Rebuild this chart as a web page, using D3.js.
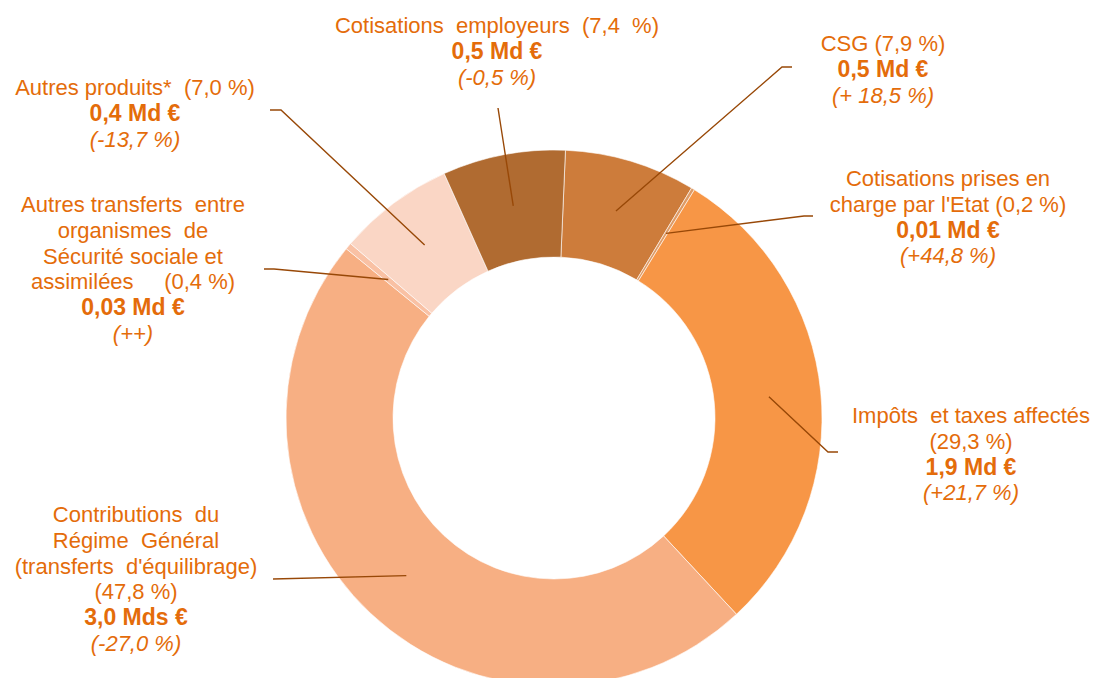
<!DOCTYPE html>
<html>
<head>
<meta charset="utf-8">
<script src="https://cdn.jsdelivr.net/npm/d3@7"></script>
<style>
  body { margin: 0; background: #fff; }
  svg text { font-family: "Liberation Sans", Arial, sans-serif; font-size: 22px; fill: #E46C0A; white-space: pre; }
</style>
</head>
<body>
<div id="chart"></div>
<script>
// slices, clockwise from the top
var categories = ["CSG", "Cotisations prises en charge par l'Etat", "Impôts et taxes affectés",
  "Contributions du Régime Général (transferts d'équilibrage)",
  "Autres transferts entre organismes de Sécurité sociale et assimilées",
  "Autres produits*", "Cotisations employeurs"];
var shares = [7.9, 0.2, 29.3, 47.8, 0.4, 7.0, 7.4];
var amounts = ["0,5 Md €", "0,01 Md €", "1,9 Md €", "3,0 Mds €", "0,03 Md €", "0,4 Md €", "0,5 Md €"];
var changes = ["(+ 18,5 %)", "(+44,8 %)", "(+21,7 %)", "(-27,0 %)", "(++)", "(-13,7 %)", "(-0,5 %)"];
// label text, {p} is replaced by the share
var nameLines = [
  ["CSG ({p} %)"],
  ["Cotisations prises en", "charge par l'Etat ({p} %)"],
  ["Impôts  et taxes affectés", "({p} %)"],
  ["Contributions  du", "Régime  Général", "(transferts  d'équilibrage)", "({p} %)"],
  ["Autres transferts  entre", "organismes  de", "Sécurité sociale et", "assimilées     ({p} %)"],
  ["Autres produits*  ({p} %)"],
  ["Cotisations  employeurs  ({p}  %)"]
];

var colors = ["#CD7C3B", "#DE9B66", "#F79646", "#F7AF83", "#F9C1A4", "#FAD6C5", "#B06B31"];

// label placement: centre x, first baseline, leader start and elbow
var labelPos = [
  {x: 883, y: 51,  sx: 792, sy: 67,  ex: 782, ey: 67},
  {x: 948, y: 186, sx: 813, sy: 216, ex: 804, ey: 216},
  {x: 971, y: 423, sx: 838, sy: 452, ex: 828, ey: 452},
  {x: 136, y: 522, sx: 273, sy: 579, ex: 273, ey: 579},
  {x: 133, y: 212, sx: 264, sy: 269, ex: 274, ey: 269},
  {x: 135, y: 95,  sx: 270, sy: 110, ex: 281, ey: 110},
  {x: 497, y: 33,  sx: 498, sy: 108, ex: 498, ey: 108}
];

var width = 1094, height = 678;
var cx = 554, cy = 418, outerR = 268, innerR = 161;
var lineH = 25.8;
var offset = 2.45 * Math.PI / 180;

var fmt = function(v) { return d3.format(".1f")(v).replace(".", ","); };

var svg = d3.select("#chart").append("svg")
    .attr("width", width)
    .attr("height", height);

var pie = d3.pie()
    .sort(null)
    .value(function(d) { return d; })
    .startAngle(offset)
    .endAngle(offset + 2 * Math.PI);

var arc = d3.arc().innerRadius(innerR).outerRadius(outerR);
var mid = d3.arc().innerRadius(216).outerRadius(216);

var arcs = pie(shares);

var g = svg.append("g")
    .attr("transform", "translate(" + cx + "," + cy + ")");

g.selectAll("path.slice")
    .data(arcs)
  .enter().append("path")
    .attr("class", "slice")
    .attr("d", arc)
    .attr("fill", function(d, i) { return colors[i]; })
    .attr("stroke", "#fff")
    .attr("stroke-width", 0.6);

// leader lines
svg.selectAll("path.leader")
    .data(arcs)
  .enter().append("path")
    .attr("class", "leader")
    .attr("fill", "none")
    .attr("stroke", "#984807")
    .attr("stroke-width", 1.4)
    .attr("d", function(d, i) {
      var p = labelPos[i], c = mid.centroid(d);
      return "M" + p.sx + "," + p.sy + "L" + p.ex + "," + p.ey + "L" + (cx + c[0]) + "," + (cy + c[1]);
    });

// labels
categories.forEach(function(cat, i) {
  var p = labelPos[i];
  var lines = nameLines[i].map(function(s) { return {t: s.replace("{p}", fmt(shares[i])), w: "normal", s: "normal", f: 22}; });
  lines.push({t: amounts[i], w: "bold", s: "normal", f: 23});
  lines.push({t: changes[i], w: "normal", s: "italic", f: 22});
  var t = svg.append("text")
      .attr("text-anchor", "middle");
  lines.forEach(function(l, j) {
    t.append("tspan")
        .attr("x", p.x)
        .attr("y", p.y + j * lineH)
        .attr("font-weight", l.w)
        .attr("font-style", l.s)
        .style("font-size", l.f + "px")
        .text(l.t);
  });
});
</script>
</body>
</html>
